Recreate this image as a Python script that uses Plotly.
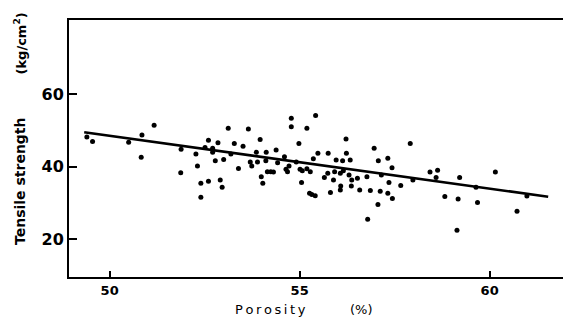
import plotly.graph_objects as go

# Porosity (%) of each specimen
porosity = [
    49.40, 49.55, 50.50, 50.85, 51.17, 50.83, 51.88, 51.87, 52.27, 52.31,
    52.40, 52.40, 52.60, 52.51, 52.60, 52.71, 52.71, 52.78, 52.85, 52.91,
    52.96, 53.00, 53.12, 53.19, 53.28, 53.39, 53.51, 53.65, 53.70, 53.74,
    53.86, 53.89, 53.96, 53.99, 54.03, 54.11, 54.12, 54.15, 54.24, 54.31,
    54.38, 54.42, 54.60, 54.64, 54.68, 54.72, 54.78, 54.78, 54.91, 54.98,
    55.01, 55.07, 55.05, 55.19, 55.19, 55.26, 55.28, 55.32, 55.41, 55.36,
    55.42, 55.48, 55.65, 55.75, 55.74, 55.81, 55.89, 55.92, 55.96, 56.07,
    56.08, 56.07, 56.13, 56.15, 56.22, 56.23, 56.30, 56.33, 56.36, 56.37,
    56.52, 56.58, 56.77, 56.79, 56.86, 56.96, 57.06, 57.07, 57.12, 57.15,
    57.32, 57.32, 57.35, 57.43, 57.44, 57.66, 57.91, 57.98, 58.43, 58.63,
    58.59, 58.82, 59.17, 59.14, 59.21, 59.64, 59.68, 60.15, 60.72, 60.98,
]

# Tensile strength (kg/cm2) of each specimen
strength = [
    48.2, 46.9, 46.7, 48.7, 51.4, 42.6, 44.8, 38.3, 43.5, 40.2,
    35.4, 31.6, 36.0, 45.3, 47.3, 45.1, 44.0, 41.6, 46.6, 36.3,
    34.3, 42.0, 50.6, 43.5, 46.4, 39.5, 45.6, 50.4, 41.3, 40.2,
    44.0, 41.3, 47.5, 37.2, 35.4, 41.6, 44.0, 38.6, 38.6, 38.5,
    44.6, 41.1, 42.7, 39.3, 38.6, 40.2, 53.3, 51.0, 41.3, 46.4,
    39.3, 38.9, 35.6, 50.6, 39.4, 32.7, 38.6, 32.3, 32.0, 42.2,
    54.1, 43.7, 37.0, 43.7, 38.2, 32.9, 36.3, 38.6, 41.8, 38.2,
    34.7, 33.6, 41.6, 38.9, 47.6, 43.7, 37.7, 41.8, 34.7, 36.3,
    36.8, 33.6, 37.2, 25.5, 33.4, 45.1, 29.6, 41.6, 33.2, 37.7,
    42.3, 32.7, 35.6, 39.7, 31.2, 34.8, 46.4, 36.3, 38.5, 39.0,
    37.0, 31.8, 31.1, 22.5, 37.0, 34.3, 30.1, 38.5, 27.7, 31.9,
]

# Fitted regression line (end points)
fit_porosity = [49.33, 61.54]
fit_strength = [49.5, 31.7]

x_ticks = [50, 55, 60]
y_ticks = [20, 40, 60]

FONT = "DejaVu Sans"

fig = go.Figure()

fig.add_trace(go.Scatter(
    x=fit_porosity, y=fit_strength, mode="lines",
    line=dict(color="black", width=2.6),
    hoverinfo="skip", showlegend=False,
))

fig.add_trace(go.Scatter(
    x=porosity, y=strength, mode="markers",
    marker=dict(color="black", size=5, line=dict(width=0)),
    showlegend=False,
))

fig.update_layout(
    width=563, height=324,
    margin=dict(l=69, r=0, t=20, b=47),
    paper_bgcolor="white", plot_bgcolor="white",
    font=dict(family=FONT, color="black"),
    xaxis=dict(
        range=[48.93, 61.93], tickvals=x_ticks,
        ticks="inside", ticklen=6, tickwidth=1.5, tickcolor="black",
        showline=True, linecolor="black", linewidth=2, mirror=True,
        showgrid=False, zeroline=False,
        tickfont=dict(family=FONT, size=13, color="black", weight="bold"),
    ),
    yaxis=dict(
        range=[9.6, 80.4], tickvals=y_ticks,
        ticks="inside", ticklen=8, tickwidth=1.5, tickcolor="black",
        showline=True, linecolor="black", linewidth=2,
        showgrid=False, zeroline=False,
        tickfont=dict(family=FONT, size=16, color="black", weight="bold"),
    ),
)

# Axis titles
title_y = (277 - 309) / 257
fig.add_annotation(
    text="P\u2009o\u2009r\u2009o\u2009s\u2009i\u2009t\u2009y",
    xref="paper", yref="paper", x=(270 - 69) / 494, y=title_y,
    showarrow=False, font=dict(family=FONT, size=13, color="black"),
    xanchor="center", yanchor="middle",
)
fig.add_annotation(
    text="(%)",
    xref="paper", yref="paper", x=(361 - 69) / 494, y=title_y,
    showarrow=False, font=dict(family=FONT, size=13, color="black"),
    xanchor="center", yanchor="middle",
)
fig.add_annotation(
    text="Tensile strength",
    xref="paper", yref="paper", x=(20 - 69) / 494, y=(277 - 181) / 257,
    textangle=-90, showarrow=False,
    font=dict(family=FONT, size=14, color="black", weight="bold"),
    xanchor="center", yanchor="middle",
)
fig.add_annotation(
    text="(kg/cm<sup>2</sup>)",
    xref="paper", yref="paper", x=(20 - 69) / 494, y=(277 - 43.5) / 257,
    textangle=-90, showarrow=False,
    font=dict(family=FONT, size=13, color="black", weight="bold"),
    xanchor="center", yanchor="middle",
)

fig.write_html("out.html")
